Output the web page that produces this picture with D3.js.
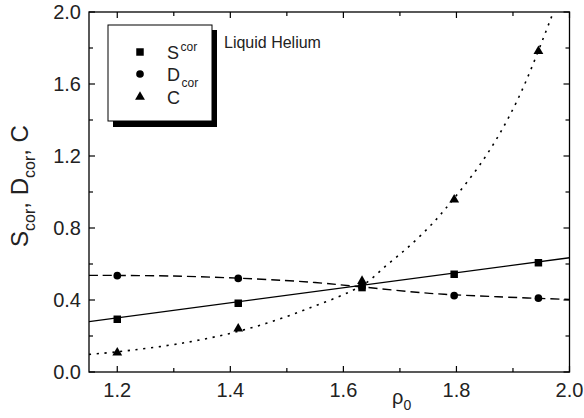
<!DOCTYPE html>
<html>
<head>
<meta charset="utf-8">
<script src="https://cdn.jsdelivr.net/npm/d3@7"></script>
<style>
  html, body { margin: 0; padding: 0; background: #fff; }
  svg { display: block; font-family: "Liberation Sans", Arial, Helvetica, sans-serif; }
</style>
</head>
<body>
<svg id="chart" width="584" height="418"></svg>
<script>
// Measured points: density rho0 and the three quantities
const rho  = [1.2, 1.414, 1.633, 1.796, 1.945];
const sCor = [0.293, 0.382, 0.469, 0.543, 0.607];
const dCor = [0.535, 0.520, 0.472, 0.424, 0.410];
const cVal = [0.110, 0.243, 0.508, 0.960, 1.785];

// Fitted curves through the points
const fitSx = [1.15, 2.0];
const fitSy = [0.280, 0.635];
const fitDx = [1.15, 1.30, 1.444, 1.55, 1.635, 1.753, 1.873, 2.0];
const fitDy = [0.537, 0.533, 0.517, 0.497, 0.472, 0.437, 0.418, 0.403];
const fitCx = [1.15, 1.2, 1.32, 1.431, 1.5375, 1.635, 1.679, 1.714, 1.75, 1.78, 1.85, 1.907, 1.966, 1.99];
const fitCy = [0.098, 0.112, 0.163, 0.240, 0.352, 0.485, 0.600, 0.692, 0.800, 0.905, 1.190, 1.505, 1.955, 2.160];

// Axis ticks
const xMajor = [1.2, 1.4, 1.6, 1.8, 2.0];
const xMinor = [1.3, 1.5, 1.7, 1.9];
const yMajor = [0.0, 0.4, 0.8, 1.2, 1.6, 2.0];
const yMinor = [0.2, 0.6, 1.0, 1.4, 1.8];

const legendItems = [
  { name: "S", script: "cor", pos: "sup", shape: d3.symbolSquare,   size: 56 },
  { name: "D", script: "cor", pos: "sub", shape: d3.symbolCircle,   size: 46 },
  { name: "C", script: "",    pos: "",    shape: d3.symbolTriangle, size: 42 }
];

const svg = d3.select("#chart");
const L = 89, R = 569.5, T = 12, B = 372;

const x = d3.scaleLinear().domain([1.15, 2.0]).range([L, R]);
const y = d3.scaleLinear().domain([0, 2.0]).range([B, T]);

svg.append("defs").append("clipPath").attr("id", "plotClip")
  .append("rect").attr("x", L).attr("y", T).attr("width", R - L).attr("height", B - T);

const plot = svg.append("g").attr("clip-path", "url(#plotClip)");

function zip(xs, ys) { return xs.map((v, i) => [v, ys[i]]); }

const lineLin = d3.line().x(d => x(d[0])).y(d => y(d[1]));
const lineSmooth = d3.line().x(d => x(d[0])).y(d => y(d[1])).curve(d3.curveCatmullRom.alpha(0.5));

// fitted curves
plot.append("path").attr("d", lineLin(zip(fitSx, fitSy)))
  .attr("fill", "none").attr("stroke", "#000").attr("stroke-width", 1.4);
plot.append("path").attr("d", lineSmooth(zip(fitDx, fitDy)))
  .attr("fill", "none").attr("stroke", "#000").attr("stroke-width", 1.4)
  .attr("stroke-dasharray", "9,5");
plot.append("path").attr("d", lineSmooth(zip(fitCx, fitCy)))
  .attr("fill", "none").attr("stroke", "#000").attr("stroke-width", 1.6)
  .attr("stroke-dasharray", "2.2,5.6");

// markers
const sym = (shape, size) => d3.symbol().type(shape).size(size)();
function markers(vals, item, dy) {
  svg.append("g").selectAll("path").data(zip(rho, vals)).join("path")
    .attr("d", sym(item.shape, item.size))
    .attr("transform", d => `translate(${x(d[0])},${y(d[1]) + (dy || 0)})`)
    .attr("fill", "#000");
}
markers(sCor, legendItems[0]);
markers(dCor, legendItems[1]);
markers(cVal, legendItems[2], 0.5);

// frame
svg.append("rect").attr("x", L).attr("y", T).attr("width", R - L).attr("height", B - T)
  .attr("fill", "none").attr("stroke", "#000").attr("stroke-width", 1.3);

// ticks (inward, on all four sides)
const tk = svg.append("g").attr("stroke", "#000").attr("stroke-width", 1.2);
function xTicks(vals, len) {
  vals.forEach(v => {
    tk.append("line").attr("x1", x(v)).attr("x2", x(v)).attr("y1", B).attr("y2", B - len);
    tk.append("line").attr("x1", x(v)).attr("x2", x(v)).attr("y1", T).attr("y2", T + len);
  });
}
function yTicks(vals, len) {
  vals.forEach(v => {
    tk.append("line").attr("y1", y(v)).attr("y2", y(v)).attr("x1", L).attr("x2", L + len);
    tk.append("line").attr("y1", y(v)).attr("y2", y(v)).attr("x1", R).attr("x2", R - len);
  });
}
xTicks(xMajor, 6); xTicks(xMinor, 4);
yTicks(yMajor, 6); yTicks(yMinor, 4);

// tick labels
const fmt = d3.format(".1f");
svg.append("g").selectAll("text").data(xMajor).join("text")
  .attr("x", d => x(d)).attr("y", 397)
  .attr("text-anchor", "middle").attr("font-size", 20).attr("fill", "#222")
  .text(d => fmt(d));
svg.append("g").selectAll("text").data(yMajor).join("text")
  .attr("x", 81).attr("y", d => y(d) + 7)
  .attr("text-anchor", "end").attr("font-size", 20).attr("fill", "#222")
  .text(d => fmt(d));

// axis titles
const xt = svg.append("text").attr("x", 392).attr("y", 404).attr("font-size", 20).attr("fill", "#222");
xt.append("tspan").text("ρ");
xt.append("tspan").attr("font-size", 14).attr("dy", 6).text("0");

const yt = svg.append("text").attr("transform", "translate(28,186) rotate(-90)")
  .attr("text-anchor", "middle").attr("font-size", 24).attr("fill", "#222");
yt.append("tspan").text("S");
yt.append("tspan").attr("font-size", 16).attr("dy", 7).text("cor");
yt.append("tspan").attr("dy", -7).text(", D");
yt.append("tspan").attr("font-size", 16).attr("dy", 7).text("cor");
yt.append("tspan").attr("dy", -7).text(", C");

// legend with drop shadow
const lg = svg.append("g");
lg.append("rect").attr("x", 113).attr("y", 30).attr("width", 104).attr("height", 97).attr("fill", "#000");
lg.append("rect").attr("x", 108).attr("y", 25).attr("width", 104).attr("height", 96)
  .attr("fill", "#fff").attr("stroke", "#000").attr("stroke-width", 1);
const rowsY = [52, 74, 97];
legendItems.forEach((it, i) => {
  lg.append("path").attr("d", sym(it.shape, it.size))
    .attr("transform", `translate(140,${rowsY[i]})`).attr("fill", "#000");
  const t = lg.append("text").attr("x", 167).attr("y", rowsY[i] + 6.5).attr("font-size", 18).attr("fill", "#222");
  t.append("tspan").text(it.name);
  if (it.script) {
    t.append("tspan").attr("font-size", 12).attr("dx", 1.5).attr("dy", it.pos === "sup" ? -8 : 6).text(it.script);
  }
});

svg.append("text").attr("x", 224).attr("y", 48).attr("font-size", 16).attr("fill", "#222")
  .text("Liquid Helium");
</script>
</body>
</html>
